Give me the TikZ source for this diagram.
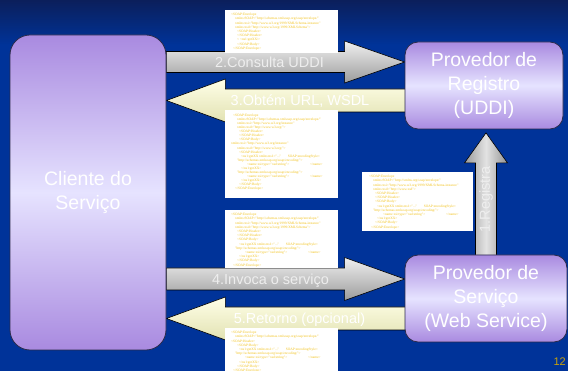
\documentclass[tikz,border=0pt]{standalone}
\usepackage{fontspec}
\setmainfont{Liberation Sans}
\newfontfamily\soapfont{Liberation Serif}
\usetikzlibrary{calc}
\definecolor{bgblue}{HTML}{003399}
\definecolor{bgdark}{HTML}{0B1F5B}
\definecolor{boxpurple}{HTML}{A98AE0}
\definecolor{boxlight}{HTML}{E6E3FF}
\definecolor{boxline}{HTML}{2B2B4A}
\definecolor{soapyellow}{HTML}{F2C21B}
\definecolor{pagegold}{HTML}{C9A10A}
\definecolor{creamtop}{HTML}{FFFFE8}
\definecolor{creambot}{HTML}{E2E2B2}
\definecolor{lblgray}{HTML}{EEEEEE}
\pgfdeclarelayer{bg}
\pgfdeclarelayer{arrows}
\pgfdeclarelayer{soap}
\pgfsetlayers{bg,arrows,soap,main}
\newcommand{\soapind}[1]{\hspace*{#1pt}}
% right-pointing block arrow: style, tail, tip, half body, half head, head length
\newcommand{\blkR}[6]{%
  \path[#1] let \p1=(#2), \p2=(#3) in
    (\x1,\y2+#4) -- (\x2-#6,\y2+#4) -- (\x2-#6,\y2+#5) -- (\x2,\y2)
    -- (\x2-#6,\y2-#5) -- (\x2-#6,\y2-#4) -- (\x1,\y2-#4) -- cycle;}
% left-pointing block arrow: style, tip, tail, half body, half head, head length
\newcommand{\blkL}[6]{%
  \path[#1] let \p1=(#2), \p2=(#3) in
    (\x1,\y1) -- (\x1+#6,\y1+#5) -- (\x1+#6,\y1+#4) -- (\x2,\y1+#4)
    -- (\x2,\y1-#4) -- (\x1+#6,\y1-#4) -- (\x1+#6,\y1-#5) -- cycle;}
% up-pointing block arrow: style, tip, tail, half body, half head, head length
\newcommand{\blkU}[6]{%
  \path[#1] let \p1=(#2), \p2=(#3) in
    (\x1,\y1) -- (\x1+#5,\y1-#6) -- (\x1+#4,\y1-#6) -- (\x1+#4,\y2)
    -- (\x1-#4,\y2) -- (\x1-#4,\y1-#6) -- (\x1-#5,\y1-#6) -- cycle;}
\tikzset{
  mainbox/.style={draw=boxline, line width=0.8pt, top color=boxpurple,
    bottom color=boxpurple, middle color=boxlight, text=white, align=center,
    font=\fontsize{19.5}{24}\selectfont, inner sep=0pt},
  grayarr/.style={draw=black, line width=0.6pt, top color=gray!12, bottom color=gray!78},
  creamarr/.style={draw=black, line width=0.6pt, top color=creamtop, bottom color=creambot},
  uparr/.style={draw=black, line width=0.6pt, left color=gray!80, right color=gray!85, middle color=gray!22},
  albl/.style={text=white, font=\fontsize{14.5}{17}\selectfont, inner sep=0pt},
  soapbox/.style={fill=white, inner sep=0pt, anchor=north west},
  soaptext/.style={text=soapyellow, font=\soapfont\fontsize{3.5}{4.2}\selectfont,
    align=left, inner sep=0pt, anchor=north west},
}
\begin{document}
\begin{tikzpicture}[x=1pt,y=-1pt]
\useasboundingbox (0,0) rectangle (568,371);
\begin{pgfonlayer}{bg}
  \fill[bgblue] (0,0) rectangle (568,371);
  \shade[top color=bgdark, bottom color=bgblue] (0,0) rectangle (568,45);
\end{pgfonlayer}

% main boxes
\node[mainbox, rounded corners=20pt, minimum width=156pt, minimum height=315pt]
  (client) at (88,192.5) {Cliente do\\Serviço};
\node[mainbox, rounded corners=13pt, minimum width=158pt, minimum height=87pt]
  (reg) at (484,85.5) {Provedor de\\Registro\\(UDDI)};
\node[mainbox, rounded corners=13pt, minimum width=162pt, minimum height=87pt]
  (svc) at (486,298.5) {Provedor de\\Serviço\\(Web Service)};

% block arrows
\begin{pgfonlayer}{arrows}
  \coordinate (t2) at (client.east |- 0,62);
  \coordinate (h2) at (reg.west |- 0,62);
  \blkR{grayarr}{t2}{h2}{10.5pt}{21pt}{60pt}
  \coordinate (h3) at (client.east |- 0,100.5);
  \coordinate (t3) at ($(reg.west |- 0,100.5)+(8,0)$);
  \blkL{creamarr}{h3}{t3}{11.5pt}{21.5pt}{59pt}
  \coordinate (t4) at (client.east |- 0,279);
  \coordinate (h4) at (svc.west |- 0,279);
  \blkR{grayarr}{t4}{h4}{11pt}{21.5pt}{60pt}
  \coordinate (h5) at (client.east |- 0,318.5);
  \coordinate (t5) at ($(svc.west |- 0,318.5)+(8,0)$);
  \blkL{creamarr}{h5}{t5}{11.5pt}{21.5pt}{59pt}
  \coordinate (h1) at ($(svc.north |- reg.south)+(0,3.5)$);
  \coordinate (t1) at ($(svc.north)+(0,6)$);
  \blkU{uparr}{h1}{t1}{10.5pt}{21.5pt}{30pt}
\end{pgfonlayer}

% SOAP messages
\begin{pgfonlayer}{soap}
  \node[soapbox, minimum width=113pt, minimum height=43pt] (sA) at (225,10) {};
  \node[soaptext] (tA) at ($(sA.north west)+(6,3)$) {%
    <SOAP:Envelope\\
    \soapind{4}xmlns:SOAP="http://schemas.xmlsoap.org/soap/envelope/"\\
    \soapind{4}xmlns:xsi="http://www.w3.org/1999/XMLSchema-instance"\\
    \soapind{4}xmlns:xsd="http://www.w3.org/1999/XMLSchema">\\
    \soapind{6}<SOAP:Header>\\
    \soapind{6}</SOAP:Header>\\
    \soapind{6}< <ns1:getXX/>\\
    \soapind{6}</SOAP:Body>\\
    \soapind{2}</SOAP:Envelope>};

  \node[soapbox, minimum width=113pt, minimum height=88pt] (sB) at (225,110) {};
  \node[soaptext, font=\soapfont\fontsize{3.5}{4.05}\selectfont] (tB) at ($(sB.north west)+(6,4)$) {%
    \soapind{2}<SOAP:Envelope\\
    \soapind{6}xmlns:SOAP="http://schemas.xmlsoap.org/soap/envelope/"\\
    \soapind{6}xmlns:xsi="http://www.w3.org/instance"\\
    \soapind{6}xmlns:xsd="http://www.w3.org/">\\
    \soapind{8}<SOAP:Header>\\
    \soapind{8}</SOAP:Header>\\
    \soapind{8}<SOAP:Body>\\
    xmlns:xsi="http://www.w3.org/instance"\\
    \soapind{6}xmlns:xsd="http://www.w3.org/">\\
    \soapind{8}<SOAP:Header>\\
    \soapind{10}<ns1:getXX xmlns:ns1="..." \soapind{6}SOAP:encodingStyle=\\
    \soapind{6}"http://schemas.xmlsoap.org/soap/encoding/">\\
    \soapind{16}<name xsi:type="xsd:string"> \soapind{20}</name>\\
    \soapind{10}</ns1:getXX>\\
    \soapind{6}"http://schemas.xmlsoap.org/soap/encoding/">\\
    \soapind{16}<name xsi:type="xsd:string"> \soapind{20}</name>\\
    \soapind{10}</ns1:getXX>\\
    \soapind{8}</SOAP:Body>\\
    \soapind{4}</SOAP:Envelope>};

  \node[soapbox, minimum width=113pt, minimum height=58pt] (sC) at (225,210) {};
  \node[soaptext] (tC) at ($(sC.north west)+(6,3)$) {%
    <SOAP:Envelope\\
    \soapind{4}xmlns:SOAP="http://schemas.xmlsoap.org/soap/envelope/"\\
    \soapind{4}xmlns:xsi="http://www.w3.org/1999/XMLSchema-instance"\\
    \soapind{4}xmlns:xsd="http://www.w3.org/1999/XMLSchema">\\
    \soapind{6}<SOAP:Header>\\
    \soapind{6}</SOAP:Header>\\
    \soapind{6}<SOAP:Body>\\
    \soapind{8}<ns1:getXX xmlns:ns1="..." \soapind{6}SOAP:encodingStyle=\\
    \soapind{4}"http://schemas.xmlsoap.org/soap/encoding/">\\
    \soapind{14}<name xsi:type="xsd:string"> \soapind{20}</name>\\
    \soapind{8}</ns1:getXX>\\
    \soapind{6}</SOAP:Body>\\
    \soapind{2}</SOAP:Envelope>};

  \node[soapbox, minimum width=113pt, minimum height=46pt] (sD) at (225,328) {};
  \node[soaptext] (tD) at ($(sD.north west)+(6,3)$) {%
    <SOAP:Envelope\\
    \soapind{4}xmlns:SOAP="http://schemas.xmlsoap.org/soap/envelope/"\\
    <SOAP:Header>\\
    \soapind{6}<SOAP:Body>\\
    \soapind{8}<ns1:getXX xmlns:ns1="..." \soapind{6}SOAP:encodingStyle=\\
    \soapind{4}"http://schemas.xmlsoap.org/soap/encoding/">\\
    \soapind{14}<name xsi:type="xsd:string"> \soapind{20}</name>\\
    \soapind{8}</ns1:getXX>\\
    \soapind{6}</SOAP:Body>\\
    \soapind{2}</SOAP:Envelope>};

  \node[soapbox, minimum width=111pt, minimum height=59pt] (sE) at (362,172) {};
  \node[soaptext] (tE) at ($(sE.north west)+(7,3)$) {%
    <SOAP:Envelope\\
    \soapind{4}xmlns:SOAP="http://xmlns.org/soap/envelope/"\\
    \soapind{4}xmlns:xsi="http://www.w3.org/1999/XMLSchema-instance"\\
    \soapind{4}xmlns:xsd="http://www.xsd">\\
    \soapind{6}<SOAP:Header>\\
    \soapind{6}</SOAP:Header>\\
    \soapind{6}<SOAP:Body>\\
    \soapind{8}<ns1:getXX xmlns:ns1="..." \soapind{6}SOAP:encodingStyle=\\
    \soapind{4}"http://schemas.xmlsoap.org/soap/encoding/">\\
    \soapind{14}<name xsi:type="xsd:string"> \soapind{20}</name>\\
    \soapind{8}</ns1:getXX>\\
    \soapind{6}</SOAP:Body>\\
    \soapind{2}</SOAP:Envelope>};
\end{pgfonlayer}

% arrow labels
\node[albl, text=lblgray] (l2) at (269.5,62.5) {2.Consulta UDDI};
\node[albl] (l3) at (300,101) {3.Obtém URL, WSDL};
\node[albl, text=lblgray] (l4) at (270.5,281) {4.Invoca o serviço};
\node[albl] (l5) at (299.5,319.5) {5.Retorno (opcional)};
\node[albl, text=lblgray, rotate=90] (l1) at (486,199.5) {1.Registra};

% page number
\node[font=\fontsize{11}{13}\selectfont, text=pagegold, anchor=east, inner sep=0pt]
  (pg) at (566,362) {12};
\end{tikzpicture}
\end{document}
